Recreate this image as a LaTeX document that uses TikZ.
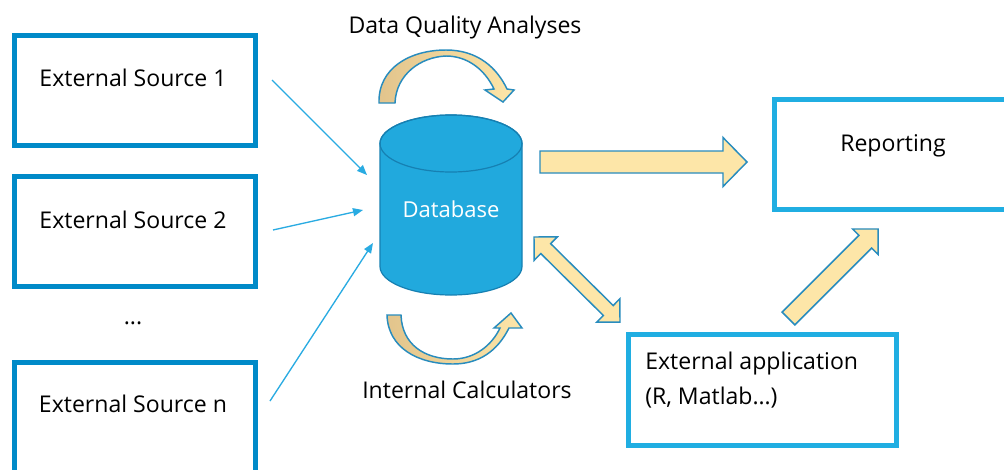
\documentclass[tikz,border=0pt]{standalone}
\usepackage{fontspec}
\setmainfont{Open Sans}
\usetikzlibrary{arrows.meta,calc}
\definecolor{esblue}{RGB}{0,138,200}
\definecolor{boxblue}{RGB}{32,174,226}
\definecolor{thinblue}{RGB}{41,171,226}
\definecolor{dbfill}{RGB}{33,169,221}
\definecolor{dbline}{RGB}{22,128,178}
\definecolor{arrline}{RGB}{40,140,190}
\definecolor{yel}{RGB}{253,230,168}
\definecolor{tanc}{RGB}{226,196,140}
\tikzset{
  esbox/.style={draw=esblue,line width=3.75pt,rectangle,inner sep=0pt},
  bbox/.style={draw=boxblue,line width=3.75pt,rectangle,inner sep=0pt},
  lbl/.style={font=\fontsize{17.3}{20}\selectfont,inner sep=0pt,text=black},
  thinarrow/.style={draw=thinblue,line width=1pt,-{Triangle[length=7.5pt,width=6pt]}},
  blk/.style={draw=arrline,line width=1.1pt,fill=yel,line join=miter},
  curv/.style={draw=arrline,line width=1.1pt,left color=tanc,right color=yel,line join=miter},
}
\begin{document}
\begin{tikzpicture}[x=0.75pt,y=-0.75pt]
\useasboundingbox (0,0) rectangle (1004,469);
\fill[white] (0,0) rectangle (1004,469);

% boxes
\node[esbox,minimum width=180.75pt,minimum height=82.5pt] (es1) at (135,90.5) {};
\node[esbox,minimum width=180.75pt,minimum height=82.5pt] (es2) at (135,231.5) {};
\node[esbox,minimum width=180.75pt,minimum height=82.5pt] (esn) at (135,417.5) {};
\node[bbox,minimum width=180pt,minimum height=82.5pt] (rep) at (894.5,154.5) {};
\node[bbox,minimum width=201pt,minimum height=83.25pt] (app) at (762.5,390) {};

% labels
\node[lbl] (t1) at (133,78) {External Source 1};
\node[lbl] (t2) at (133,220) {External Source 2};
\node[lbl] (tdots) at (133,323) {...};
\node[lbl] (tn) at (133,404) {External Source n};
\node[lbl] (trep) at (893,146) {Reporting};
\node[lbl,anchor=west] (tapp1) at (645,363) {External application};
\node[lbl,anchor=west] (tapp2) at (645,398) {(R, Matlab…)};
\node[lbl] (tdq) at (465,28) {Data Quality Analyses};
\node[lbl] (tic) at (467,390) {Internal Calculators};

% database
\path[fill=dbfill,draw=dbline,line width=0.9pt]
  (380,143.5) -- (380,266.5)
  arc[start angle=180,end angle=360,x radius=53.25pt,y radius=21.375pt]
  -- (522,143.5)
  arc[start angle=0,end angle=180,x radius=53.25pt,y radius=21.375pt] -- cycle;
\draw[dbline,line width=0.9pt] (451,143.5) ellipse [x radius=53.25pt,y radius=21.375pt];
\node[lbl,text=white,font=\fontsize{16.5}{20}\selectfont] (db) at (451,209) {Database};

% thin arrows
\coordinate (a1s) at (272,80);  \coordinate (a1e) at (367,175);
\coordinate (a2s) at (273,230); \coordinate (a2e) at (363,210);
\coordinate (a3s) at (270,401); \coordinate (a3e) at (373,243);
\draw[thinarrow] (a1s) -- (a1e);
\draw[thinarrow] (a2s) -- (a2e);
\draw[thinarrow] (a3s) -- (a3e);

% block arrows
\begin{scope}[shift={(540,162)}]
\draw[blk] (0,-11) -- (183,-11) -- (183,-24.5) -- (207,0) -- (183,24.5) -- (183,11) -- (0,11) -- cycle;
\end{scope}
\begin{scope}[shift={(534,237)},rotate=-44.7]
\draw[blk] (0,0) -- (16.5,-16.5) -- (16.5,-7) -- (104.5,-7) -- (104.5,-16.5) -- (121,0) -- (104.5,16.5) -- (104.5,7) -- (16.5,7) -- (16.5,16.5) -- cycle;
\end{scope}
\begin{scope}[shift={(788.5,318.5)},rotate=45]
\draw[blk] (0,-9) -- (108.6,-9) -- (108.6,-18) -- (126.6,0) -- (108.6,18) -- (108.6,9) -- (0,9) -- cycle;
\end{scope}

% curved arrows
\shadedraw[curv] (379,103) .. controls (378,68) and (410,50) .. (446,50)
  .. controls (478,50) and (497,68) .. (507,89) -- (514,90) -- (503,102) -- (485,90) -- (494,89)
  .. controls (484,68) and (466,56) .. (446,56)
  .. controls (420,57) and (396,75) .. (395,103) -- cycle;
\shadedraw[curv] (387,315) -- (401,315) .. controls (402,345) and (425,359) .. (453,359)
  .. controls (475,359) and (492,345) .. (500,328) -- (494,328) -- (511,313) -- (522,328) -- (509,328)
  .. controls (497,352) and (478,364) .. (453,364)
  .. controls (418,364) and (388,348) .. (387,315) -- cycle;
\end{tikzpicture}
\end{document}
